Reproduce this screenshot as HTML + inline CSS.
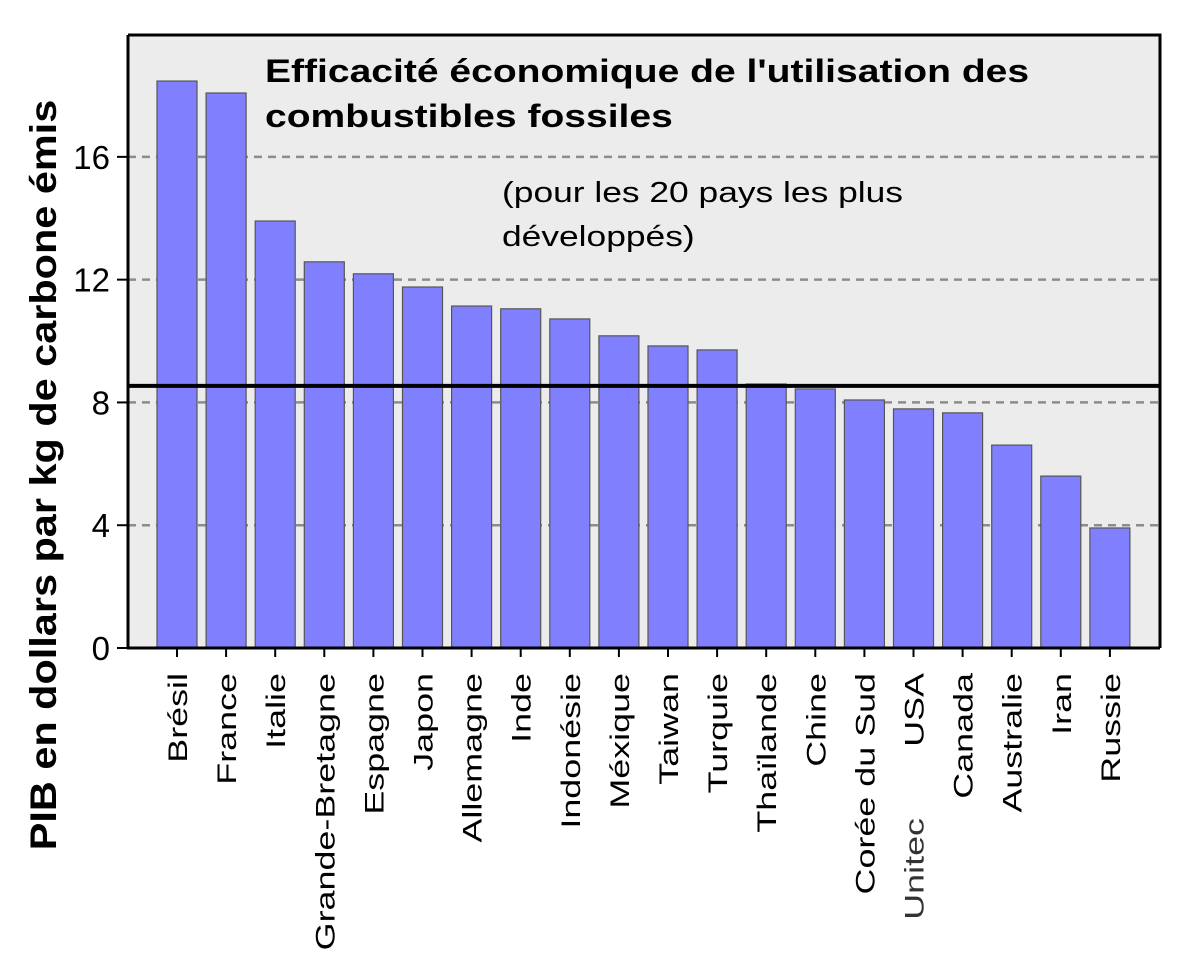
<!DOCTYPE html>
<html><head><meta charset="utf-8"><style>
body{margin:0;background:#fff;}
svg{display:block;font-family:"Liberation Sans",Arial,sans-serif;}
</style></head><body>
<svg id="c" width="1200" height="953" viewBox="0 0 1200 953">
<rect x="128" y="35" width="1032" height="613" fill="#ececec"/>
<g id="grid"></g>
<g id="bars"></g>
<g id="labels"></g>
<g id="yticks"></g>
<line id="avg" x1="128" x2="1160" stroke="#000" stroke-width="4"/>
<path d="M128,35 H1160 V648" fill="none" stroke="#000" stroke-width="3"/>
<line x1="128" y1="35" x2="128" y2="649" stroke="#000" stroke-width="3"/>
<line x1="127" y1="648" x2="1160" y2="648" stroke="#000" stroke-width="3"/>
<text transform="translate(265,82) scale(1.22,1)" font-size="32" font-weight="bold">Efficacité économique de l'utilisation des</text>
<text transform="translate(265,127) scale(1.22,1)" font-size="32" font-weight="bold">combustibles fossiles</text>
<text transform="translate(502,202) scale(1.22,1)" font-size="29">(pour les 20 pays les plus</text>
<text transform="translate(502,246) scale(1.22,1)" font-size="29">développés)</text>
<text transform="translate(56,475) rotate(-90) scale(1.12,1)" text-anchor="middle" font-size="37" font-weight="bold">PIB en dollars par kg de carbone émis</text>
</svg>
<script>
const categories=["Brésil","France","Italie","Grande-Bretagne","Espagne","Japon","Allemagne","Inde","Indonésie","Méxique","Taiwan","Turquie","Thaïlande","Chine","Corée du Sud","USA","Canada","Australie","Iran","Russie"];
const values=[18.47,18.08,13.91,12.58,12.19,11.76,11.14,11.05,10.72,10.17,9.84,9.71,8.6,8.44,8.08,7.79,7.66,6.61,5.6,3.91];
const average=8.54;
const yTicks=[0,4,8,12,16];
const yMin=0,yMax=19.97;
const plotTop=35,plotBottom=648,firstCenter=177,step=49.1,barW=40;
const NS="http://www.w3.org/2000/svg";
function y(v){return plotBottom-(v-yMin)/(yMax-yMin)*(plotBottom-plotTop);}
function x(i){return firstCenter+i*step;}
function mk(tag,attrs,parent){const e=document.createElementNS(NS,tag);for(const k in attrs)e.setAttribute(k,attrs[k]);document.getElementById(parent).appendChild(e);return e;}
yTicks.forEach(t=>{
  if(t>0){const g=mk('line',{x1:128,x2:1160,y1:y(t),y2:y(t),stroke:'#8c8c8c','stroke-width':2.5,'stroke-dasharray':'8,6'},'grid');
  
  }
  const tk=mk('line',{x1:117,x2:128,y1:y(t),y2:y(t),stroke:'#000','stroke-width':2},'yticks');
  
  
  const tl=mk('text',{x:110,y:y(t)+12,'text-anchor':'end','font-size':33},'yticks');
  tl.textContent=t;
  
  
});
categories.forEach((c,i)=>{
  const b=mk('rect',{x:x(i)-barW/2,y:y(values[i]),width:barW,height:plotBottom-y(values[i]),fill:'#8080ff',stroke:'#555','stroke-width':1.2},'bars');
  
  
  const tk=mk('line',{x1:x(i),x2:x(i),y1:648,y2:657,stroke:'#000','stroke-width':2},'labels');
  
  
  const t=mk('text',{transform:'translate('+(x(i)+10)+',673) rotate(-90) scale(1.33,1)','text-anchor':'end','font-size':27},'labels');
  t.textContent=c;
  
  
});
const u=mk('text',{transform:'translate('+(x(15)+10)+',818) rotate(-90) scale(1.33,1)','text-anchor':'end','font-size':27,fill:'#333'},'labels');
u.textContent='Unitec';


const a=document.getElementById('avg');a.setAttribute('y1',y(average));a.setAttribute('y2',y(average));
</script>
</body></html>
